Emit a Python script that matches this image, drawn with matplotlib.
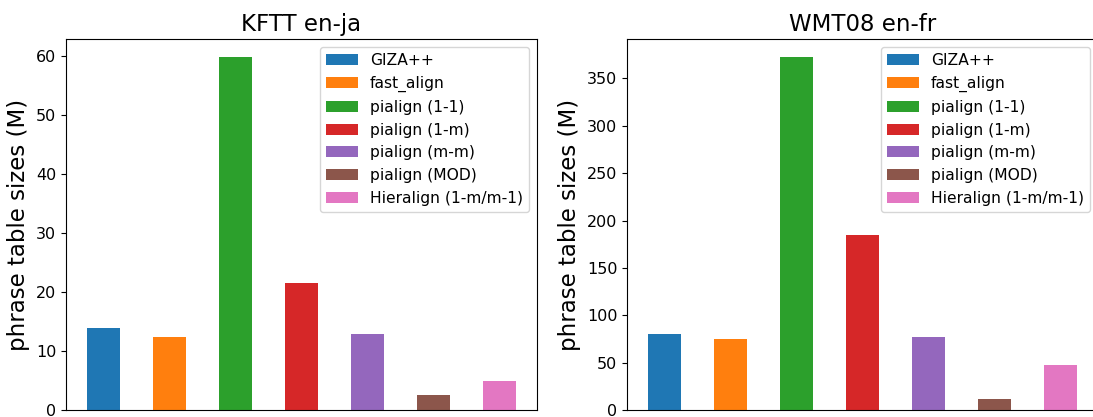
import matplotlib
matplotlib.use("Agg")
import matplotlib.pyplot as plt

# data
methods = ["GIZA++", "fast_align", "pialign (1-1)", "pialign (1-m)",
           "pialign (m-m)", "pialign (MOD)", "Hieralign (1-m/m-1)"]
kftt_sizes = [13.95, 12.3, 59.9, 21.6, 12.8, 2.5, 4.9]
wmt_sizes = [79.9, 74.6, 373.0, 184.5, 77.5, 11.3, 47.2]
titles = ["KFTT en-ja", "WMT08 en-fr"]
colors = ["C0", "C1", "C2", "C3", "C4", "C5", "C6"]

fig = plt.figure(figsize=(10.93, 4.17), dpi=100)
ax1 = fig.add_axes([66 / 1093, 7 / 417, 471 / 1093, 371 / 417])
ax2 = fig.add_axes([627 / 1093, 7 / 417, 471 / 1093, 371 / 417])

for ax, vals, title in zip([ax1, ax2], [kftt_sizes, wmt_sizes], titles):
    for i, (m, v) in enumerate(zip(methods, vals)):
        ax.bar(i, v, width=0.5, color=colors[i], label=m)
    ax.set_xticks([])
    ax.set_title(title, fontsize=16.5)
    ax.set_ylabel("phrase table sizes (M)", fontsize=16.5)
    ax.tick_params(axis="y", labelsize=11.5)
    ax.legend(loc="upper right", fontsize=11.2)

fig.savefig("out.png", dpi=100)
